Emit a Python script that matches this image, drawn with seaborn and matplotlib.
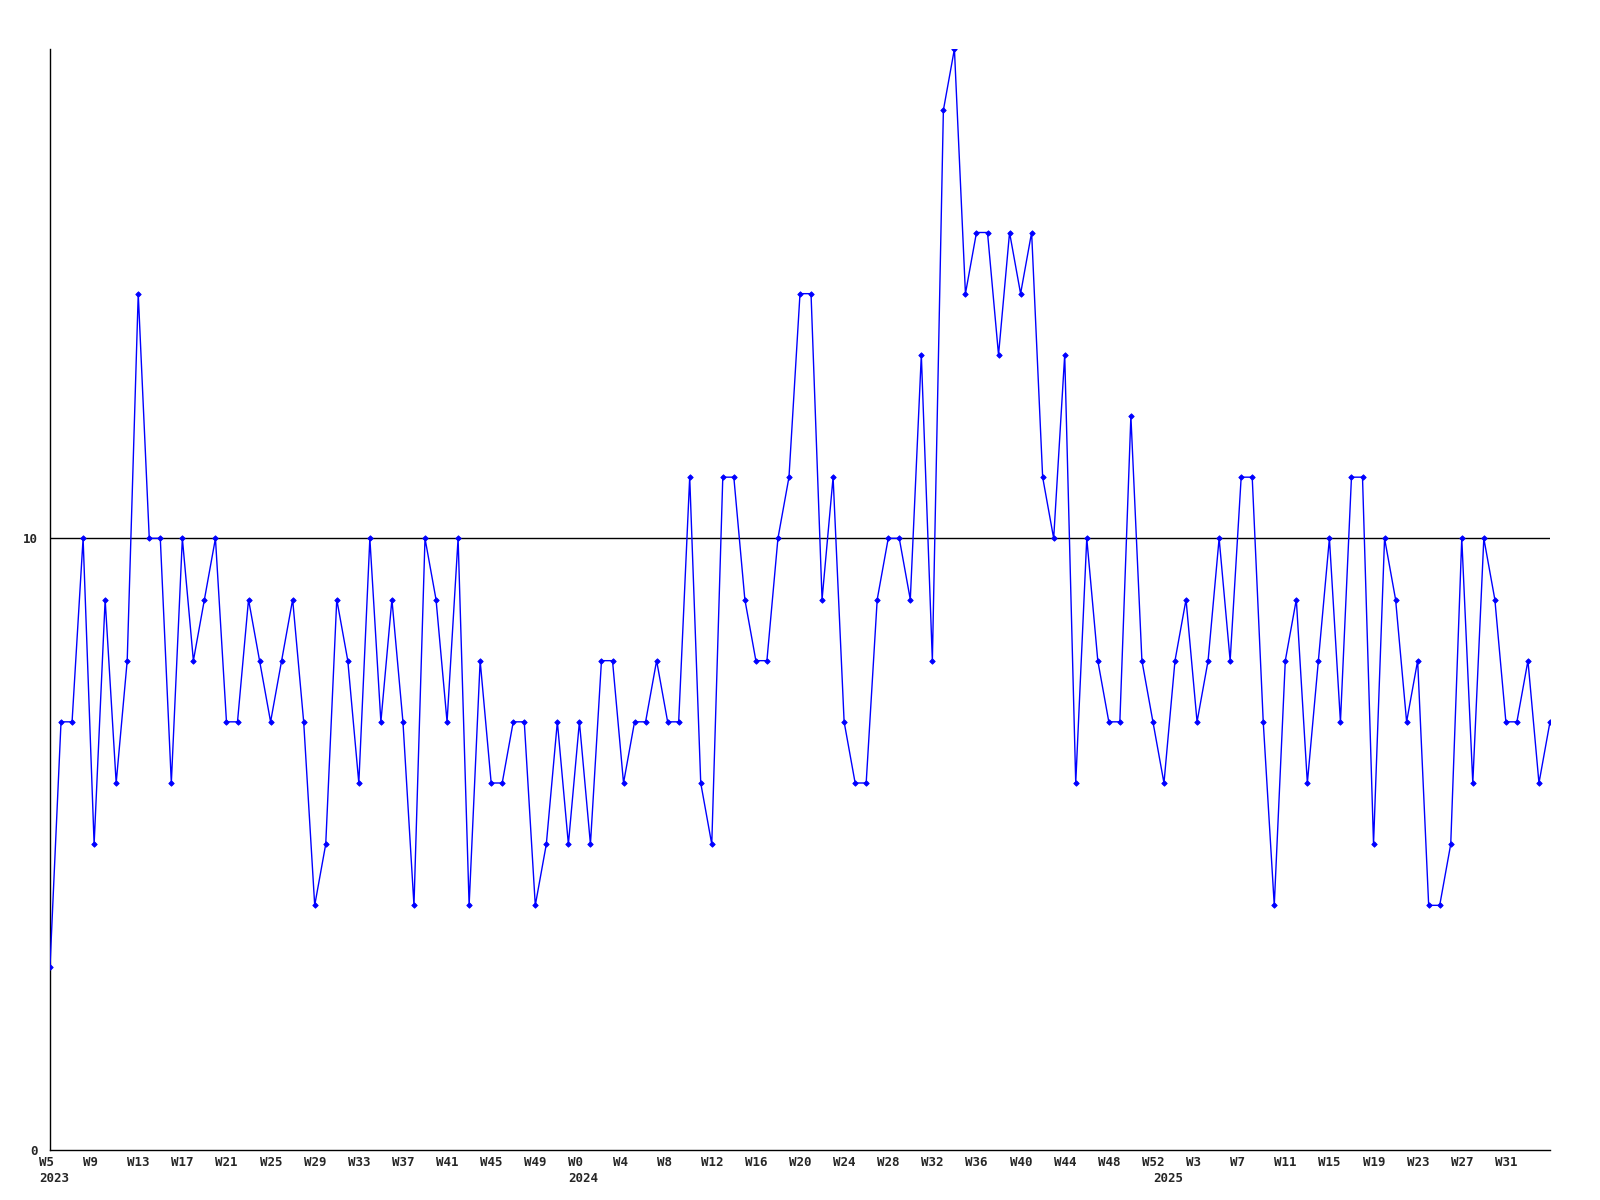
import matplotlib
matplotlib.use("Agg")
import matplotlib.pyplot as plt
import seaborn as sns
import pandas as pd

# weekly values, W5 2023 .. W35 2025
values = [3, 7, 7, 10, 5, 9, 6, 8, 14, 10,
          10, 6, 10, 8, 9, 10, 7, 7, 9, 8,
          7, 8, 9, 7, 4, 5, 9, 8, 6, 10,
          7, 9, 7, 4, 10, 9, 7, 10, 4, 8,
          6, 6, 7, 7, 4, 5, 7, 5, 7, 5,
          8, 8, 6, 7, 7, 8, 7, 7, 11, 6,
          5, 11, 11, 9, 8, 8, 10, 11, 14, 14,
          9, 11, 7, 6, 6, 9, 10, 10, 9, 13,
          8, 17, 18, 14, 15, 15, 13, 15, 14, 15,
          11, 10, 13, 6, 10, 8, 7, 7, 12, 8,
          7, 6, 8, 9, 7, 8, 10, 8, 11, 11,
          7, 4, 8, 9, 6, 8, 10, 7, 11, 11,
          5, 10, 9, 7, 8, 4, 4, 5, 10, 6,
          10, 9, 7, 7, 8, 6, 7]

week_labels = ["W5", "W9", "W13", "W17", "W21", "W25", "W29", "W33", "W37", "W41", "W45", "W49",
               "W0", "W4", "W8", "W12", "W16", "W20", "W24", "W28", "W32", "W36", "W40", "W44", "W48", "W52",
               "W3", "W7", "W11", "W15", "W19", "W23", "W27", "W31"]
year_labels = ["2023", "2024", "2025"]
year_start_index = [0, 48, 101]

ytick_values = [0, 10]

df = pd.DataFrame({"i": range(len(values)), "v": values})

sns.set_style("white")
plt.rcParams["font.family"] = ["DejaVu Sans Mono", "DejaVu Sans"]

fig = plt.figure(figsize=(16, 12), dpi=100)
ax = fig.add_axes([50 / 1600, 50 / 1200, 1500 / 1600, 1101 / 1200])

ax.axhline(10, color="black", lw=1.0, zorder=1)
sns.lineplot(data=df, x="i", y="v", ax=ax, color="#0000ff", lw=1.0,
             marker="D", markersize=2.8, markeredgewidth=0.6, markeredgecolor="#0000ff",
             zorder=3)

ax.set_xlim(0, len(values) - 1)
ax.set_ylim(0, 18)

xt = list(range(0, len(values), 4))[:len(week_labels)]
ax.set_xticks(xt)
ax.set_xticklabels([])
for idx, lab in zip(xt, week_labels):
    ax.annotate(lab, xy=(idx, 0), xycoords=("data", "axes fraction"),
                xytext=(-11, -6), textcoords="offset pixels",
                ha="left", va="top", fontsize=9, fontweight="bold")

for idx, yr in zip(year_start_index, year_labels):
    ax.annotate(yr, xy=(idx, 0), xycoords=("data", "axes fraction"),
                xytext=(-11, -22), textcoords="offset pixels",
                ha="left", va="top", fontsize=9, fontweight="bold")

ax.set_yticks(ytick_values)
ax.set_yticklabels([str(v) for v in ytick_values], fontsize=9, fontweight="bold")
ax.tick_params(axis="both", length=0)
ax.tick_params(axis="y", pad=9)

ax.set_xlabel("")
ax.set_ylabel("")
for s in ["top", "right"]:
    ax.spines[s].set_visible(False)
for s in ["left", "bottom"]:
    ax.spines[s].set_color("black")
    ax.spines[s].set_linewidth(1.0)

fig.savefig("out.png", dpi=100, facecolor="white")
